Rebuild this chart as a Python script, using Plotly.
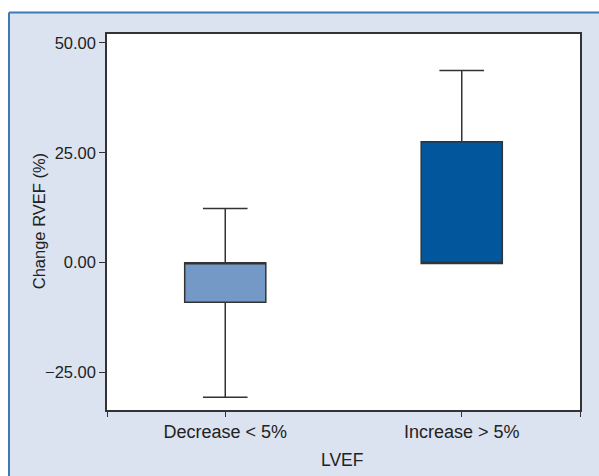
import plotly.graph_objects as go

categories = [0, 1]
category_labels = ["Decrease < 5%", "Increase > 5%"]
q1_vals = [-9.0, -0.2]
median_vals = [0.0, -0.2]
q3_vals = [0.0, 27.5]
lower_vals = [-30.6, -0.2]
upper_vals = [12.3, 43.7]
box_colors = ["#7499c6", "#02569c"]
y_ticks = [-25, 0, 25, 50]

FONT = "Liberation Sans, Arial, sans-serif"
LINE = "#333333"
BG = "#dbe2f0"

fig = go.Figure()
for i in range(len(categories)):
    fig.add_trace(go.Box(
        x=[categories[i]],
        q1=[q1_vals[i]], median=[median_vals[i]], q3=[q3_vals[i]],
        lowerfence=[lower_vals[i]], upperfence=[upper_vals[i]],
        width=0.343, whiskerwidth=0.55,
        fillcolor=box_colors[i],
        line=dict(color=LINE, width=1.5),
        boxpoints=False, showlegend=False, hoverinfo="skip",
    ))

L, R, T, B = 107, 19, 33.5, 66
W, H = 599, 476
pw, ph = W - L - R, H - T - B

def px(x):
    return (x - L) / pw

def py(y):
    return (H - B - y) / ph

fig.update_layout(
    width=W, height=H,
    margin=dict(l=L, r=R, t=T, b=B, pad=0),
    paper_bgcolor=BG, plot_bgcolor="white",
    font=dict(family=FONT, size=16, color="#222222"),
    xaxis=dict(range=[-0.5, 1.5], tickmode="array",
               tickvals=[-0.5, 0, 1, 1.5],
               ticktext=["", category_labels[0], category_labels[1], ""],
               tickfont=dict(size=18),
               ticks="outside", ticklen=5, tickcolor=LINE, tickwidth=1.2,
               showline=True, linecolor=LINE, linewidth=1.5, mirror=True,
               showgrid=False, zeroline=False, fixedrange=True),
    yaxis=dict(range=[-33.5, 52], tickmode="array", tickvals=y_ticks,
               tickformat=".2f", tickfont=dict(size=16.5),
               ticks="outside", ticklen=6, tickcolor=LINE, tickwidth=1.2,
               showline=True, linecolor=LINE, linewidth=1.5, mirror=True,
               showgrid=False, zeroline=False, fixedrange=True),
    shapes=[
        dict(type="rect", xref="paper", yref="paper", x0=px(-5), x1=px(8.5),
             y0=py(H + 5), y1=py(-5), fillcolor="white", line=dict(width=0), layer="below"),
        dict(type="rect", xref="paper", yref="paper", x0=px(-5), x1=px(W + 5),
             y0=py(11.5), y1=py(-5), fillcolor="white", line=dict(width=0), layer="below"),
        dict(type="line", xref="paper", yref="paper", x0=px(9), x1=px(9),
             y0=py(12), y1=py(H + 5), line=dict(color="#3d7ab8", width=2)),
        dict(type="line", xref="paper", yref="paper", x0=px(9), x1=px(W + 5),
             y0=py(12), y1=py(12), line=dict(color="#3d7ab8", width=2)),
    ],
    annotations=[
        dict(text="Change RVEF (%)", xref="paper", yref="paper",
             x=px(39), y=py(221), textangle=-90, showarrow=False,
             xanchor="center", yanchor="middle", font=dict(size=16.5)),
        dict(text="LVEF", xref="paper", yref="paper",
             x=px(342), y=py(460), showarrow=False,
             xanchor="center", yanchor="middle", font=dict(size=17.5)),
    ],
)

fig.write_html("out.html", post_script="document.body.style.margin='0';",
               config={"displayModeBar": False})
